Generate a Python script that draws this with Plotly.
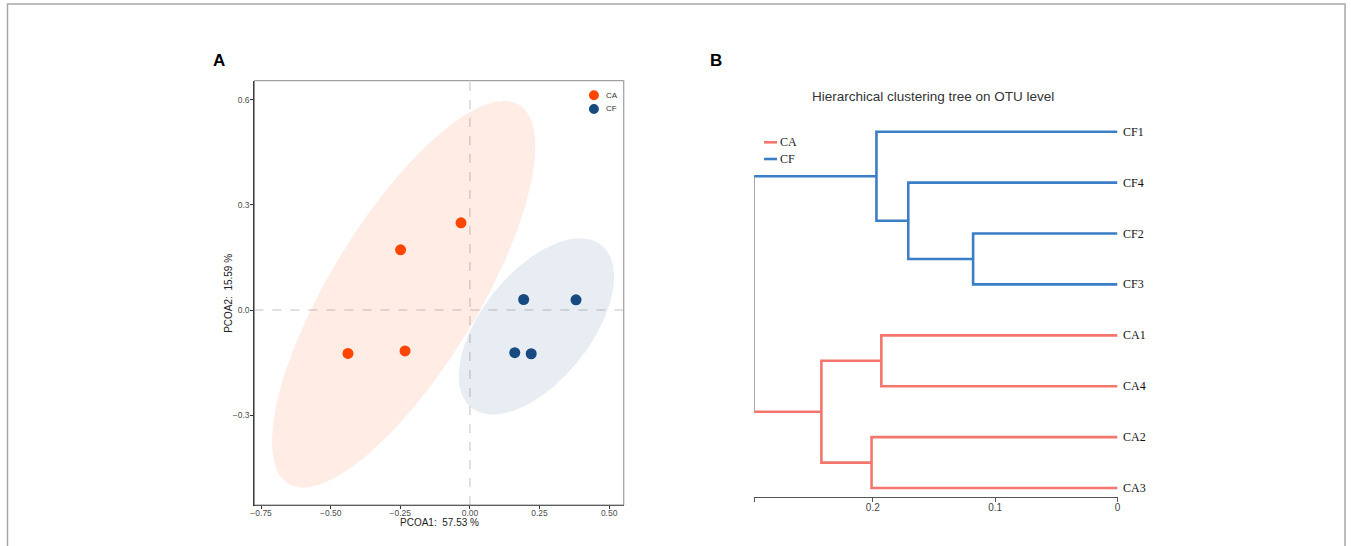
import numpy as np
import plotly.graph_objects as go

# ---------------- data ----------------
groups = ["CA", "CF"]
ca_x = [-0.438, -0.233, -0.249, -0.032]
ca_y = [-0.124, -0.117, 0.172, 0.249]
cf_x = [0.193, 0.381, 0.161, 0.220]
cf_y = [0.030, 0.029, -0.122, -0.125]
pc1_label = "PCOA1:\u00a0\u00a057.53 %"
pc2_label = "PCOA2:\u00a0\u00a015.59 %"
x_ticks = [-0.75, -0.50, -0.25, 0.00, 0.25, 0.50]
y_ticks = [-0.3, 0.0, 0.3, 0.6]

# dendrogram (linkage style: new nodes numbered after leaves)
leaves = ["CF1", "CF4", "CF2", "CF3", "CA1", "CA4", "CA2", "CA3"]
merge_a = [2, 1, 0, 4, 6, 11, 10]
merge_b = [3, 8, 9, 5, 7, 12, 13]
merge_h = [0.118, 0.171, 0.197, 0.193, 0.201, 0.242, 0.297]
tree_ticks = [0.2, 0.1, 0.0]
tree_tick_text = ["0.2", "0.1", "0"]

# ---------------- styles ----------------
W, H = 1351, 546
def px(x): return x / W
def py(y): return 1 - y / H

col_pts = {"CA": "#FF4500", "CF": "#174A7E"}
col_fill = {"CA": "rgba(255,69,0,0.10)", "CF": "rgba(23,74,126,0.10)"}
col_tree = {"CA": "#F4766C", "CF": "#3A7EC6", None: "#777777"}
ELLIPSE_SCALE = 2.85
SANS = "Liberation Sans, Arial, sans-serif"
SERIF = "Liberation Serif, Times New Roman, serif"

fig = go.Figure()

# ---------------- panel A ----------------
def ellipse(xs, ys, scale, n=240):
    X = np.column_stack([xs, ys])
    mu = X.mean(axis=0)
    C = np.cov(X.T)
    vals, vecs = np.linalg.eigh(C)
    t = np.linspace(0, 2 * np.pi, n)
    circ = np.vstack([np.cos(t), np.sin(t)])
    pts = vecs @ (np.sqrt(vals)[:, None] * circ) * scale + mu[:, None]
    return pts[0], pts[1]

for g, xs, ys in [("CA", ca_x, ca_y), ("CF", cf_x, cf_y)]:
    ex, ey = ellipse(xs, ys, ELLIPSE_SCALE)
    fig.add_trace(go.Scatter(x=ex, y=ey, mode="lines", fill="toself",
                             fillcolor=col_fill[g], line=dict(width=0),
                             hoverinfo="skip", showlegend=False,
                             xaxis="x", yaxis="y"))
for g, xs, ys in [("CA", ca_x, ca_y), ("CF", cf_x, cf_y)]:
    fig.add_trace(go.Scatter(x=xs, y=ys, mode="markers", name=g,
                             marker=dict(size=11, color=col_pts[g]),
                             showlegend=False, xaxis="x", yaxis="y"))

# ---------------- panel B ----------------
n = len(leaves)
ypos = {i: float(i) for i in range(n)}
hgt = {i: 0.0 for i in range(n)}
grp = {i: leaves[i][:2] for i in range(n)}
for k, (a, b, h) in enumerate(zip(merge_a, merge_b, merge_h)):
    node = n + k
    ypos[node] = (ypos[a] + ypos[b]) / 2
    hgt[node] = h
    grp[node] = grp[a] if grp[a] == grp[b] else None

segs = {}
def add(color_key, xs, ys):
    d = segs.setdefault(color_key, ([], []))
    d[0].extend(xs + [None]); d[1].extend(ys + [None])

for k, (a, b, h) in enumerate(zip(merge_a, merge_b, merge_h)):
    node = n + k
    if grp[node] is not None:
        add(grp[node], [hgt[a], h, h, hgt[b]], [ypos[a], ypos[a], ypos[b], ypos[b]])
    else:
        add(None, [h, h], [ypos[a], ypos[b]])
        add(grp[a], [h, hgt[a]], [ypos[a], ypos[a]])
        add(grp[b], [h, hgt[b]], [ypos[b], ypos[b]])

for key in [None, "CA", "CF"]:
    if key in segs:
        xs, ys = segs[key]
        fig.add_trace(go.Scatter(x=xs, y=ys, mode="lines",
                                 line=dict(color=col_tree[key], width=1.2 if key is None else 2.6),
                                 hoverinfo="skip", showlegend=False,
                                 xaxis="x2", yaxis="y2"))

root_h = max(merge_h)
ann = []
for i, lab in enumerate(leaves):
    ann.append(dict(x=0, y=ypos[i], xref="x2", yref="y2", text=lab, showarrow=False,
                    xanchor="left", yanchor="middle", xshift=3,
                    font=dict(family=SERIF, size=12, color="#111111")))

# ---------------- annotations ----------------
ann += [
    dict(x=px(216), y=py(60), xref="paper", yref="paper", text="<b>A</b>", showarrow=False,
         xanchor="center", yanchor="middle", font=dict(family=SANS, size=17, color="black")),
    dict(x=px(716), y=py(60), xref="paper", yref="paper", text="<b>B</b>", showarrow=False,
         xanchor="center", yanchor="middle", font=dict(family=SANS, size=17, color="black")),
    dict(x=px(437.5), y=py(522), xref="paper", yref="paper", text=pc1_label, showarrow=False,
         xanchor="center", yanchor="middle", font=dict(family=SANS, size=10, color="#222")),
    dict(x=px(225), y=py(293), xref="paper", yref="paper", text=pc2_label, showarrow=False,
         textangle=-90, xanchor="center", yanchor="middle", font=dict(family=SANS, size=10, color="#222")),
    dict(x=px(934), y=py(96), xref="paper", yref="paper",
         text="Hierarchical clustering tree on OTU level", showarrow=False,
         xanchor="center", yanchor="middle", font=dict(family=SANS, size=13.5, color="#333")),
]
# legend A
shapes = []
for i, g in enumerate(groups):
    cy = 95.3 + i * 13.7
    shapes.append(dict(type="circle", xref="paper", yref="paper",
                       x0=px(588), x1=px(598), y0=py(cy - 5), y1=py(cy + 5),
                       fillcolor=col_pts[g], line=dict(width=0)))
    ann.append(dict(x=px(603), y=py(cy), xref="paper", yref="paper", text=g, showarrow=False,
                    xanchor="left", yanchor="middle", font=dict(family=SANS, size=8, color="#333")))
# legend B
for i, g in enumerate(groups):
    cy = 142.3 + i * 16.7
    shapes.append(dict(type="line", xref="paper", yref="paper",
                       x0=px(764), x1=px(777), y0=py(cy), y1=py(cy),
                       line=dict(color=col_tree[g], width=2.6)))
    ann.append(dict(x=px(778), y=py(cy), xref="paper", yref="paper", text=g, showarrow=False,
                    xanchor="left", yanchor="middle", font=dict(family=SERIF, size=12, color="#222")))

# reference lines + boxes
shapes += [
    dict(type="line", xref="x", yref="y domain", x0=0, x1=0, y0=0, y1=1,
         line=dict(color="#BBBBBB", width=0.9, dash="dash"), layer="below"),
    dict(type="line", xref="x domain", yref="y", x0=0, x1=1, y0=0, y1=0,
         line=dict(color="#BBBBBB", width=0.9, dash="dash"), layer="below"),
    dict(type="rect", xref="x domain", yref="y domain", x0=0, x1=1, y0=0, y1=1,
         line=dict(color="#8A8A8A", width=1), layer="above"),
    dict(type="rect", xref="paper", yref="paper", x0=px(3.5), x1=px(1348), y0=py(4), y1=-0.1,
         line=dict(color="#A8A8A8", width=1.5)),
]

fig.update_layout(
    width=W, height=H, margin=dict(l=0, r=0, t=0, b=0),
    paper_bgcolor="white", plot_bgcolor="white", showlegend=False,
    annotations=ann, shapes=shapes,
    xaxis=dict(domain=[px(251.7), px(623)], range=[-0.774, 0.5525],
               tickvals=x_ticks, tickformat=".2f", showgrid=False, zeroline=False,
               showline=True, linecolor="#333", linewidth=1.2, ticks="outside", ticklen=3,
               ticklabelstandoff=-3,
               tickcolor="#333", tickfont=dict(family=SANS, size=8.5, color="#4D4D4D")),
    yaxis=dict(domain=[py(505), py(80.7)], range=[-0.557, 0.655],
               tickvals=y_ticks, tickformat=".1f", showgrid=False, zeroline=False,
               showline=True, linecolor="#333", linewidth=1.2, ticks="outside", ticklen=3,
               ticklabelstandoff=-1,
               tickcolor="#333", tickfont=dict(family=SANS, size=8.5, color="#4D4D4D")),
    xaxis2=dict(domain=[px(754), px(1119.3)], range=[root_h, 0], anchor="y2",
                tickvals=[root_h] + tree_ticks, ticktext=[""] + tree_tick_text,
                showgrid=False, zeroline=False, showline=True, linecolor="#555", linewidth=1,
                ticks="outside", ticklen=4, tickcolor="#555", ticklabelstandoff=-3,
                tickfont=dict(family=SANS, size=10, color="#444")),
    yaxis2=dict(domain=[py(496.7), py(106.25)], range=[n - 1 + 0.17, -0.5], anchor="x2",
                visible=False, showgrid=False, zeroline=False),
)

fig.write_html("out.html", config={"displayModeBar": False},
               post_script="document.body.style.margin='0';document.body.style.overflow='hidden';")
